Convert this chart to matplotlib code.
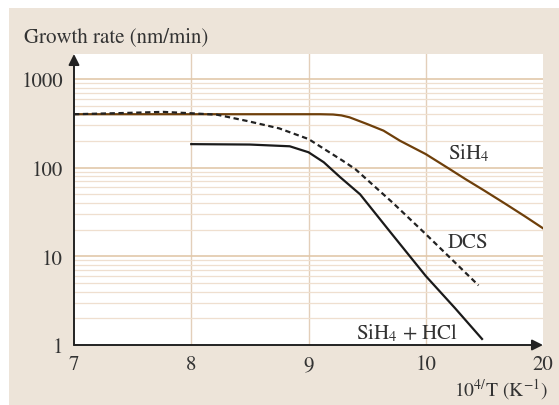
import matplotlib.pyplot as plt
from matplotlib.patches import Rectangle

plt.rcParams['font.family'] = ['STIXGeneral', 'DejaVu Serif']
plt.rcParams['mathtext.fontset'] = 'stix'

# data (x = 10^4/T axis position, y = growth rate nm/min)
x_sih4 = [7.0, 8.0, 9.0, 9.1, 9.21, 9.28, 9.35, 9.5, 9.64, 9.78, 10.0, 10.2, 10.34, 10.5, 10.68, 10.85, 11.0]
y_sih4 = [400, 400, 400, 400, 397, 388, 369, 310, 261, 201, 142, 97, 74, 55, 39, 28, 20.7]

x_dcs = [7.0, 7.4, 7.76, 8.0, 8.22, 8.47, 8.75, 9.0, 9.29, 9.4, 9.72, 10.0, 10.25, 10.45]
y_dcs = [400, 412, 425, 410, 395, 337, 277, 210, 120, 96, 40, 17.8, 8.5, 4.7]

x_hcl = [8.0, 8.5, 8.84, 9.0, 9.13, 9.27, 9.44, 9.7, 10.0, 10.25, 10.48]
y_hcl = [184, 182, 174, 149, 115, 78, 50, 18.6, 6.0, 2.6, 1.17]

xticks = [7, 8, 9, 10, 11]
xtick_labels = ['7', '8', '9', '10', '20']
yticks = [1, 10, 100, 1000]
ytick_labels = ['1', '10', '100', '1000']

W, H = 559, 406
fig = plt.figure(figsize=(W / 100, H / 100), dpi=100, facecolor='white')
fig.patches.append(Rectangle((9 / W, 0), 1 - 9 / W, 1 - 9 / H, transform=fig.transFigure,
                             facecolor='#ede4d9', edgecolor='none', zorder=-10))

ax = fig.add_axes([74 / W, 1 - 346 / H, (543 - 74) / W, (346 - 55) / H])
ax.set_facecolor('white')
ax.set_yscale('log')
ax.set_xlim(7, 11)
ax.set_ylim(1, 1910)

# grid
for v in [8, 9, 10]:
    ax.axvline(v, color='#e3cfba', lw=1.0, zorder=1)
for dec in [1, 10, 100]:
    for m in range(2, 10):
        ax.axhline(dec * m, color='#efdfcf', lw=0.9, zorder=1)
for v in [10, 100, 1000]:
    ax.axhline(v, color='#e2c8aa', lw=1.2, zorder=1)

ax.plot(x_sih4, y_sih4, color='#6e3f0a', lw=1.6, zorder=3)
ax.plot(x_dcs, y_dcs, color='#222222', lw=1.6, linestyle=(0, (2.4, 1.6)), zorder=3)
ax.plot(x_hcl, y_hcl, color='#1a1a1a', lw=1.6, zorder=3)

ax.text(10.19, 150, 'SiH$_4$', fontsize=15, ha='left', va='center', color='#333333')
ax.text(10.19, 14.5, 'DCS', fontsize=15, ha='left', va='center', color='#333333')
ax.text(9.84, 1.4, 'SiH$_4$ + HCl', fontsize=15, ha='center', va='center', color='#333333')

for s in ax.spines.values():
    s.set_visible(False)
ax.tick_params(length=0, labelsize=15, colors='#333333')
ax.set_xticks(xticks)
ax.set_xticklabels(xtick_labels)
ax.set_yticks(yticks)
ax.set_yticklabels(ytick_labels)
ax.minorticks_off()
ax.tick_params(axis='x', pad=7)
ax.tick_params(axis='y', pad=8)

# arrow axes
ax.annotate('', xy=(1.0, 0), xytext=(0, 0), xycoords='axes fraction',
            arrowprops=dict(arrowstyle='-|>', color='#222222', lw=1.4, mutation_scale=16,
                            shrinkA=0, shrinkB=0), zorder=5)
ax.annotate('', xy=(0, 1.0), xytext=(0, 0), xycoords='axes fraction',
            arrowprops=dict(arrowstyle='-|>', color='#222222', lw=1.4, mutation_scale=16,
                            shrinkA=0, shrinkB=0), zorder=5)

fig.text(24 / W, 1 - 37 / H, 'Growth rate (nm/min)', fontsize=15, ha='left', va='center', color='#333333')
fig.text(548 / W, 1 - 390 / H, '10$^{4/}$T (K$^{-1}$)', fontsize=14, ha='right', va='center', color='#333333')

fig.savefig('out.png', dpi=100, facecolor='white')
